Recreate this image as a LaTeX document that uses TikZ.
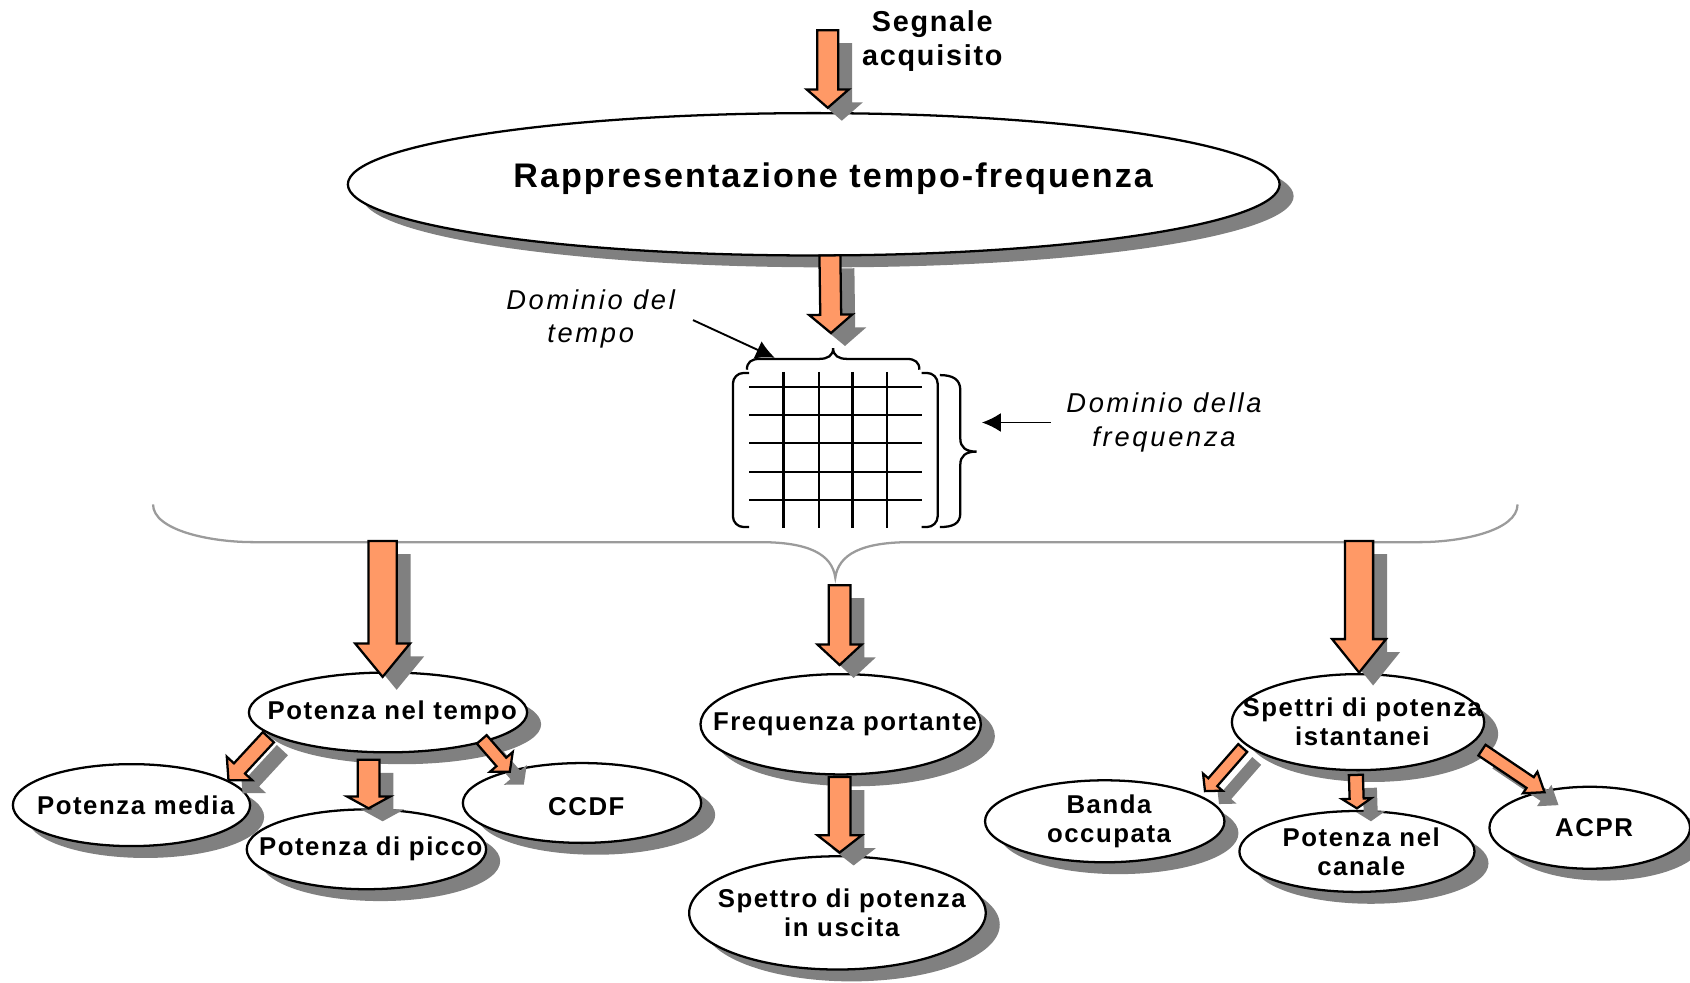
\documentclass[tikz,border=0pt]{standalone}
\usepackage{fontspec}
\setmainfont{Liberation Sans}[LetterSpace=6]
\usepackage{tikz}
\usetikzlibrary{shapes.geometric,shadows,calc,arrows.meta}
\definecolor{arrow_orange}{RGB}{255, 153, 102}
\definecolor{shadow_gray}{RGB}{128, 128, 128}
\definecolor{brace_gray}{RGB}{155, 155, 155}
\tikzstyle{en}=[ellipse,fill=white,draw=black,line width=0.6pt,inner sep=0pt,
  drop shadow={shadow xshift=0.13cm,shadow yshift=-0.11cm,fill=shadow_gray,opacity=1}]
\tikzstyle{barrow}=[fill=arrow_orange,draw=black,line width=0.6pt,line join=miter,
  drop shadow={shadow xshift=0.13cm,shadow yshift=-0.12cm,fill=shadow_gray,opacity=1}]
\tikzstyle{tn}=[align=center,inner sep=0pt,font=\fontsize{7.6}{8.8}\selectfont\bfseries]
\tikzstyle{itn}=[align=center,inner sep=0pt,
  font=\fontsize{7.2}{8.8}\selectfont\itshape\addfontfeatures{LetterSpace=10}]
\tikzstyle{every label}=[align=center,inner sep=0pt,xshift=0.04cm,
  font=\fontsize{6.8}{7.7}\selectfont\bfseries]
\tikzstyle{tlabel}=[xshift=0.14cm,yshift=0.05cm,font=\fontsize{9}{11}\selectfont\bfseries]
\tikzstyle{gline}=[draw=black,line width=0.6pt]
\tikzstyle{gbrace}=[draw=brace_gray,line width=0.6pt]
\tikzstyle{pointer}=[draw=black,line width=0.5pt,-{Latex[length=5pt,width=5pt]}]
\tikzstyle{none}=[]
% block arrow: start, tip, shaft half width, head half width, head length
\newcommand{\blockarrow}[5]{%
  \path ($(#2)!#5!(#1)$) coordinate (ah);
  \draw [style=barrow] ($(#1)!#3!90:(#2)$) -- ($(ah)!#3!90:(#2)$)
    -- ($(ah)!#4!90:(#2)$) -- (#2) -- ($(ah)!#4!-90:(#2)$)
    -- ($(ah)!#3!-90:(#2)$) -- ($(#1)!#3!-90:(#2)$) -- cycle;
}

\begin{document}
\begin{tikzpicture}[x=0.01cm,y=-0.01cm]
            \useasboundingbox (0,0) rectangle (1568,912);
            % grid with its brackets and braces
            \draw [style=gline] (695,359) -- (855,359);
            \draw [style=gline] (695,385) -- (855,385);
            \draw [style=gline] (695,411) -- (855,411);
            \draw [style=gline] (695,438) -- (855,438);
            \draw [style=gline] (695,464) -- (855,464);
            \draw [style=gline] (727,345) -- (727,490);
            \draw [style=gline] (760,345) -- (760,490);
            \draw [style=gline] (791,345) -- (791,490);
            \draw [style=gline] (823,345) -- (823,490);
            \draw [style=gline, rounded corners=0.1cm] (695,346) -- (680,346) -- (680,489) -- (695,489);
            \draw [style=gline, rounded corners=0.1cm] (855,346) -- (870,346) -- (870,489) -- (855,489);
            \draw [style=gline] (693,343) .. controls (693,336) and (697,333) .. (705,333) -- (760,333)
              .. controls (768,333) and (773,330) .. (773,323)
              .. controls (773,330) and (778,333) .. (786,333) -- (841,333)
              .. controls (849,333) and (853,336) .. (853,343);
            \draw [style=gline] (872,348) .. controls (884,348) and (891,352) .. (891,362) -- (891,407)
              .. controls (891,415) and (896,419) .. (906,419)
              .. controls (896,419) and (891,423) .. (891,431) -- (891,476)
              .. controls (891,486) and (884,489) .. (872,489);
            \draw [style=gbrace] (142,468) .. controls (142,492) and (195,503) .. (235,503) -- (705,503)
              .. controls (750,503) and (772,514) .. (775,536)
              .. controls (778,514) and (800,503) .. (845,503) -- (1317,503)
              .. controls (1357,503) and (1408,492) .. (1408,468);
            % nodes
            \node [style=tn] (0) at (865,38) {Segnale\\acquisito};
            \node [style=en, minimum width=8.64cm, minimum height=1.32cm,
              label={[style=tlabel]center:Rappresentazione tempo-frequenza}] (1) at (755,171) {};
            \node [style=itn] (2) at (548,296) {Dominio del\\tempo};
            \node [style=itn] (3) at (1080,392) {Dominio della\\frequenza};
            \node [style=en, minimum width=2.58cm, minimum height=0.74cm,
              label={center:Potenza nel tempo}] (4) at (360,661) {};
            \node [style=en, minimum width=2.60cm, minimum height=0.93cm,
              label={center:Frequenza portante}] (5) at (780,672) {};
            \node [style=en, minimum width=2.34cm, minimum height=0.89cm,
              label={center:Spettri di potenza\\istantanei}] (6) at (1260,670) {};
            \node [style=en, minimum width=2.20cm, minimum height=0.76cm,
              label={center:Potenza media}] (7) at (122,747) {};
            \node [style=en, minimum width=2.22cm, minimum height=0.74cm,
              label={center:Potenza di picco}] (8) at (340,788) {};
            \node [style=en, minimum width=2.21cm, minimum height=0.74cm,
              label={[yshift=-0.03cm]center:CCDF}] (9) at (540,745) {};
            \node [style=en, minimum width=2.75cm, minimum height=1.05cm,
              label={center:Spettro di potenza\\in uscita}] (10) at (777,847) {};
            \node [style=en, minimum width=2.22cm, minimum height=0.76cm,
              label={center:Banda\\occupata}] (11) at (1025,762) {};
            \node [style=en, minimum width=2.18cm, minimum height=0.75cm,
              label={center:Potenza nel\\canale}] (12) at (1259,790) {};
            \node [style=en, minimum width=1.86cm, minimum height=0.76cm,
              label={center:ACPR}] (13) at (1475,768) {};
            % arrow ends
            \coordinate (20) at (768,28);
            \coordinate (21) at (768,100);
            \coordinate (22) at (770,237);
            \coordinate (23) at (771,309);
            \coordinate (24) at (355,502);
            \coordinate (25) at (355,628);
            \coordinate (26) at (779,543);
            \coordinate (27) at (779,617);
            \coordinate (28) at (1261,502);
            \coordinate (29) at (1261,624);
            \coordinate (30) at (779,721);
            \coordinate (31) at (779,791);
            \coordinate (32) at (249,684);
            \coordinate (33) at (212,724);
            \coordinate (34) at (342,705);
            \coordinate (35) at (342,750);
            \coordinate (36) at (447,686);
            \coordinate (37) at (473,716);
            \coordinate (38) at (1153,694);
            \coordinate (39) at (1118,734);
            \coordinate (40) at (1258,719);
            \coordinate (41) at (1259,750);
            \coordinate (42) at (1375,696);
            \coordinate (43) at (1433,735);
            \coordinate (44) at (643,297);
            \coordinate (45) at (719,332);
            \coordinate (46) at (975,392);
            \coordinate (47) at (911,392);
            \draw [style=pointer] (44) to (45);
            \draw [style=pointer] (46) to (47);
            \blockarrow{20}{21}{0.097cm}{0.195cm}{0.17cm}
            \blockarrow{22}{23}{0.097cm}{0.20cm}{0.17cm}
            \blockarrow{24}{25}{0.13cm}{0.255cm}{0.31cm}
            \blockarrow{26}{27}{0.10cm}{0.205cm}{0.19cm}
            \blockarrow{28}{29}{0.13cm}{0.25cm}{0.31cm}
            \blockarrow{30}{31}{0.10cm}{0.205cm}{0.16cm}
            \blockarrow{32}{33}{0.07cm}{0.16cm}{0.15cm}
            \blockarrow{34}{35}{0.10cm}{0.20cm}{0.11cm}
            \blockarrow{36}{37}{0.06cm}{0.14cm}{0.12cm}
            \blockarrow{38}{39}{0.055cm}{0.12cm}{0.11cm}
            \blockarrow{40}{41}{0.065cm}{0.135cm}{0.09cm}
            \blockarrow{42}{43}{0.06cm}{0.12cm}{0.16cm}
    \end{tikzpicture}
\end{document}
